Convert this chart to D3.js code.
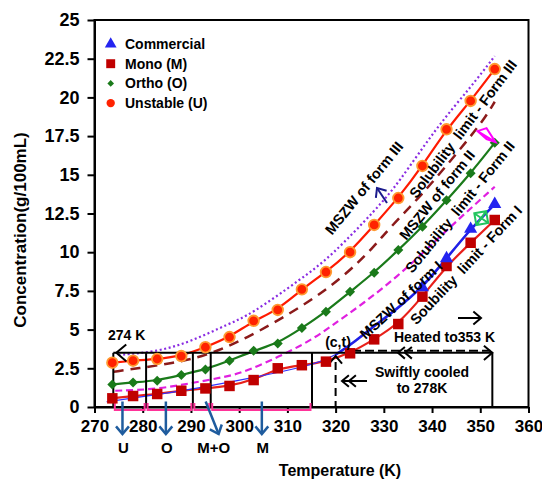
<!DOCTYPE html>
<html lang="en">
<head>
<meta charset="UTF-8">
<script src="https://cdn.jsdelivr.net/npm/d3@7"></script>
<title>Solubility and MSZW</title>
<style>
    body { margin: 0; background: #fff; }
    svg text { font-family: "Liberation Sans", Arial, sans-serif; font-weight: bold; fill: #000; }
    .axis path, .axis line { stroke: #000; stroke-width: 2px; }
    .axis text { font-size: 17px; }
    .yaxis text { font-size: 18px; }
    .rot { font-size: 14.5px; white-space: pre; }
</style>
</head>
<body>
<svg id="chart" width="542" height="483"></svg>
<script>
// measured temperatures (K) for the three polymorphs
var temps    = [273.7, 278, 283, 288, 293, 298, 303, 308, 313, 318, 323, 328, 333, 338, 343, 348, 353];
var unstable = [2.86, 2.99, 3.10, 3.29, 3.86, 4.52, 5.57, 6.27, 7.60, 8.72, 10.0, 11.76, 13.5, 15.57, 17.94, 19.77, 21.83];
var ortho    = [1.46, 1.59, 1.70, 2.07, 2.43, 2.98, 3.64, 4.11, 5.10, 6.16, 7.45, 8.68, 10.14, 11.65, 13.35, 15.1, 17.07];
var mono     = [0.56, 0.71, 0.84, 1.05, 1.20, 1.36, 1.74, 2.50, 2.70, 2.93, 3.47, 4.37, 5.36, 7.13, 9.11, 10.61, 12.08];
var commercialT = [338, 343, 348, 353];
var commercial  = [7.73, 9.6, 11.5, 13.1];
// trend of the commercial sample
var commercialFitT = [272.5, 283, 293, 303, 313, 320, 327, 333, 338, 343, 348, 353];
var commercialFit  = [0.34, 0.8, 1.3, 1.9, 2.55, 3.2, 5.0, 6.4, 7.73, 9.6, 11.5, 13.1];
// metastable zone width curves
var mszw3T = [275, 283, 290, 298, 302.3, 313, 319, 328.6, 333, 341, 348, 353];
var mszw3  = [3.36, 3.57, 4.22, 5.4, 5.95, 8.31, 9.71, 12.84, 14.45, 18.1, 20.65, 22.67];
var mszw2T = [274, 279, 286, 293, 301, 313.7, 322, 328, 331.4, 337.6, 346, 350.7, 353];
var mszw2  = [2.28, 2.5, 2.82, 3.29, 4.33, 6.59, 8.5, 10.36, 11.65, 13.59, 16.71, 18.54, 19.72];
var mszw1T = [274.3, 282.9, 289.8, 296.8, 301.6, 314, 318.9, 325.8, 332.8, 339.5, 344.5, 353];
var mszw1  = [1.05, 1.14, 1.53, 1.92, 2.28, 4.1, 5.19, 6.7, 8.42, 10.36, 11.85, 14.23];
// single open markers near the top of the curves
var openDiamond = [351.3, 17.5];
var openSquare  = [350.2, 12.2];
// heating / cooling boxes
var boxEdges = [273.9, 280.7, 290.4, 294.1, 315.1, 352.5];
var boxTop = 3.5;
var phaseNames = ["U", "O", "M+O", "M"];
var phaseT     = [275.8, 284.8, 294.5, 304.7];

var xTicks = d3.range(270, 361, 10);
var yTicks = d3.range(0, 25.1, 2.5);

var svg = d3.select("#chart");
var x = d3.scaleLinear().domain([270, 360]).range([94.5, 528.5]),
    y = d3.scaleLinear().domain([0, 25]).range([407, 20]);

function pairs(ts, cs) {
    return ts.map(function(t, i) { return [t, cs[i]]; });
}
var line = d3.line()
    .x(function(d) { return x(d[0]); })
    .y(function(d) { return y(d[1]); })
    .curve(d3.curveBasis);

// open arrow head, ang = direction it points
function chevron(g, tx, ty, ang, len, color, w) {
    var a1 = ang + Math.PI - 0.7, a2 = ang + Math.PI + 0.7;
    g.append("path")
        .attr("d", "M" + (tx + len * Math.cos(a1)) + "," + (ty + len * Math.sin(a1)) +
                   "L" + tx + "," + ty +
                   "L" + (tx + len * Math.cos(a2)) + "," + (ty + len * Math.sin(a2)))
        .attr("fill", "none").attr("stroke", color).attr("stroke-width", w);
}
function arrow(g, x1, y1, x2, y2, color, w, len) {
    g.append("line").attr("x1", x1).attr("y1", y1).attr("x2", x2).attr("y2", y2)
        .attr("stroke", color).attr("stroke-width", w);
    chevron(g, x2, y2, Math.atan2(y2 - y1, x2 - x1), len, color, w);
}

// axes
svg.append("g").attr("class", "axis").attr("transform", "translate(0,407)")
    .call(d3.axisBottom(x).tickValues(xTicks).tickSize(6).tickSizeOuter(0).tickPadding(7));
svg.append("g").attr("class", "axis yaxis").attr("transform", "translate(94.5,0)")
    .call(d3.axisLeft(y).tickValues(yTicks).tickSize(7).tickSizeOuter(0).tickPadding(8).tickFormat(d3.format("")));
svg.append("rect").attr("x", x(270)).attr("y", y(25))
    .attr("width", x(360) - x(270)).attr("height", y(0) - y(25))
    .attr("fill", "none").attr("stroke", "#000").attr("stroke-width", 2);

svg.append("text").attr("x", 340).attr("y", 476).attr("text-anchor", "middle")
    .style("font-size", "16px").text("Temperature (K)");
svg.append("text").attr("transform", "translate(26,230) rotate(-90)").attr("text-anchor", "middle")
    .style("font-size", "17px").text("Concentration(g/100mL)");

// MSZW curves
var curves = svg.append("g").attr("fill", "none");
curves.append("path").attr("d", line(pairs(mszw3T, mszw3)))
    .attr("stroke", "#8a2be2").attr("stroke-width", 2.2).attr("stroke-dasharray", "2,2.6");
curves.append("path").attr("d", line(pairs(mszw2T, mszw2)))
    .attr("stroke", "#8b1a1a").attr("stroke-width", 2.5).attr("stroke-dasharray", "10,7");
curves.append("path").attr("d", line(pairs(mszw1T, mszw1)))
    .attr("stroke", "#e020e0").attr("stroke-width", 2.2).attr("stroke-dasharray", "7,4");

// solubility fits
curves.append("path").attr("d", line(pairs(temps, unstable))).attr("stroke", "#ff1a00").attr("stroke-width", 2.2);
curves.append("path").attr("d", line(pairs(temps, ortho))).attr("stroke", "#1a7a1a").attr("stroke-width", 2.2);
curves.append("path").attr("d", line(pairs(temps, mono))).attr("stroke", "#e8201a").attr("stroke-width", 2.2);

// commercial fit: thin below 320 K, thick above
svg.append("clipPath").attr("id", "hot").append("rect")
    .attr("x", x(320)).attr("y", 0).attr("width", 300).attr("height", 483);
curves.append("path").attr("d", line(pairs(commercialFitT, commercialFit))).attr("stroke", "#3333ff").attr("stroke-width", 1.2);
curves.append("path").attr("d", line(pairs(commercialFitT, commercialFit))).attr("clip-path", "url(#hot)")
    .attr("stroke", "#2020e6").attr("stroke-width", 2.6);

// boxes
var box = svg.append("g").attr("stroke", "#000").attr("stroke-width", 2).attr("fill", "none");
box.append("line").attr("x1", x(boxEdges[0])).attr("x2", x(boxEdges[boxEdges.length - 1]))
    .attr("y1", y(boxTop)).attr("y2", y(boxTop));
boxEdges.forEach(function(t) {
    box.append("line").attr("x1", x(t)).attr("x2", x(t)).attr("y1", y(boxTop)).attr("y2", y(0));
});
// pink brackets under the low temperature boxes
for (var i = 0; i < 4; i++) {
    var xa = x(boxEdges[i]) + 1.5, xb = x(boxEdges[i + 1]) - 1.5;
    svg.append("path").attr("d", "M" + xa + ",403V410H" + xb + "V403")
        .attr("fill", "none").attr("stroke", "#ff3399").attr("stroke-width", 2);
}
// heating run along the top of the big box
svg.append("line").attr("x1", 352).attr("x2", x(boxEdges[5]) - 2).attr("y1", y(boxTop) - 2).attr("y2", y(boxTop) - 2)
    .attr("stroke", "#000").attr("stroke-width", 2).attr("stroke-dasharray", "9,4");
chevron(svg, x(boxEdges[5]), y(boxTop), 0, 11, "#000", 2);
chevron(svg, 398, y(boxTop), Math.PI, 9, "#000", 2);
chevron(svg, 405, y(boxTop), Math.PI, 9, "#000", 2);
chevron(svg, x(boxEdges[0]) + 3, y(boxTop), Math.PI, 13, "#000", 2);
// (c,t) marker
svg.append("line").attr("x1", x(320)).attr("x2", x(320)).attr("y1", 362).attr("y2", y(0))
    .attr("stroke", "#000").attr("stroke-width", 2).attr("stroke-dasharray", "8,5");
chevron(svg, x(320), 356, -Math.PI / 2, 10, "#000", 2);
// cooling arrow
svg.append("line").attr("x1", 342).attr("x2", 367).attr("y1", 381).attr("y2", 381)
    .attr("stroke", "#000").attr("stroke-width", 2);
chevron(svg, 342, 381, Math.PI, 9, "#000", 2);
chevron(svg, 349, 381, Math.PI, 9, "#000", 2);
arrow(svg, 458, 318, 481, 318, "#000", 2, 10);

// phase arrows below the axis
phaseT.forEach(function(t, i) {
    if (phaseNames[i] === "M+O") arrow(svg, x(t) - 7, 401.5, x(t) + 6, 434, "#1f5c9e", 2.5, 10);
    else arrow(svg, x(t), 401.5, x(t), 434, "#1f5c9e", 2.5, 10);
    svg.append("text").attr("x", x(t) + 1).attr("y", 453)
        .attr("text-anchor", "middle").style("font-size", "15px").text(phaseNames[i]);
});

// markers
var sq = d3.symbol(d3.symbolSquare), tri = d3.symbol(d3.symbolTriangle);
svg.append("g").selectAll("path").data(pairs(temps, mono)).join("path")
    .attr("d", sq.size(110)()).attr("fill", "#c00000")
    .attr("transform", function(d) { return "translate(" + x(d[0]) + "," + y(d[1]) + ")"; });
svg.append("g").selectAll("path").data(pairs(temps, ortho)).join("path")
    .attr("d", sq.size(50)()).attr("fill", "#1a7a1a")
    .attr("transform", function(d) { return "translate(" + x(d[0]) + "," + y(d[1]) + ") rotate(45)"; });
svg.append("g").selectAll("circle").data(pairs(temps, unstable)).join("circle")
    .attr("cx", function(d) { return x(d[0]); }).attr("cy", function(d) { return y(d[1]); })
    .attr("r", 5.3).attr("fill", "#ff2200").attr("stroke", "#ff9a30").attr("stroke-width", 1.8);
svg.append("g").selectAll("path").data(pairs(commercialT, commercial)).join("path")
    .attr("d", tri.size(75)()).attr("fill", "#2424f0")
    .attr("transform", function(d) { return "translate(" + x(d[0]) + "," + y(d[1]) + ")"; });

// open markers
var dx = x(openDiamond[0]), dy = y(openDiamond[1]);
svg.append("path").attr("d", "M" + (dx - 9) + "," + (dy - 5) + "L" + dx + "," + (dy - 8) + "L" + (dx + 9) + "," + (dy + 6) +
        "L" + dx + "," + (dy + 3) + "Z M" + (dx - 9) + "," + (dy - 5) + "L" + (dx + 9) + "," + (dy + 6))
    .attr("fill", "none").attr("stroke", "#ff00ff").attr("stroke-width", 2);
var sx = x(openSquare[0]), sy = y(openSquare[1]);
svg.append("path").attr("d", "M" + (sx - 6) + "," + (sy - 6) + "h12v12h-12Z M" + (sx - 6) + "," + (sy - 6) + "l12,12 M" + (sx + 6) + "," + (sy - 6) + "l-12,12")
    .attr("fill", "none").attr("stroke", "#22c55e").attr("stroke-width", 2)
    .attr("transform", "rotate(-10," + sx + "," + sy + ")");

// rotated curve labels
var labels = [
    ["MSZW of form III", 364, 188, -51],
    ["Solubility  limit - Form III", 463, 129, -53],
    ["MSZW of form II", 437, 195, -51],
    ["Solubility  limit - Form II", 460, 207, -51],
    ["MSZW of form I", 401, 300, -43],
    ["Soubility  limit - Form I", 466, 265, -47]
];
labels.forEach(function(l) {
    svg.append("text").attr("class", "rot").attr("text-anchor", "middle")
        .attr("transform", "translate(" + l[1] + "," + l[2] + ") rotate(" + l[3] + ")")
        .attr("dy", "0.35em").text(l[0]);
});
arrow(svg, 387, 203, 377, 188, "#1a1a8c", 2, 10);

// other annotations
var note = svg.append("g").style("font-size", "14px");
note.append("text").attr("x", 108).attr("y", 340).text("274 K");
note.append("text").attr("x", 338).attr("y", 347).attr("text-anchor", "middle").text("(c,t)");
note.append("text").attr("x", 394).attr("y", 341.5).text("Heated to353 K");
note.append("text").attr("x", 422).attr("y", 377).attr("text-anchor", "middle").text("Swiftly cooled");
note.append("text").attr("x", 422).attr("y", 393).attr("text-anchor", "middle").text("to 278K");

// legend
var legend = svg.append("g").style("font-size", "14px");
var rows = [
    ["Commercial", tri.size(60)(), "#2424f0", 0],
    ["Mono (M)", sq.size(80)(), "#c00000", 0],
    ["Ortho (O)", sq.size(22)(), "#1a7a1a", 45],
    ["Unstable (U)", d3.symbol(d3.symbolCircle).size(55)(), "#ff2200", 0]
];
rows.forEach(function(r, i) {
    var ry = 44 + i * 19.7;
    legend.append("path").attr("d", r[1]).attr("fill", r[2])
        .attr("transform", "translate(110.7," + ry + ") rotate(" + r[3] + ")");
    legend.append("text").attr("x", 125).attr("y", ry + 5).text(r[0]);
});
</script>
</body>
</html>
